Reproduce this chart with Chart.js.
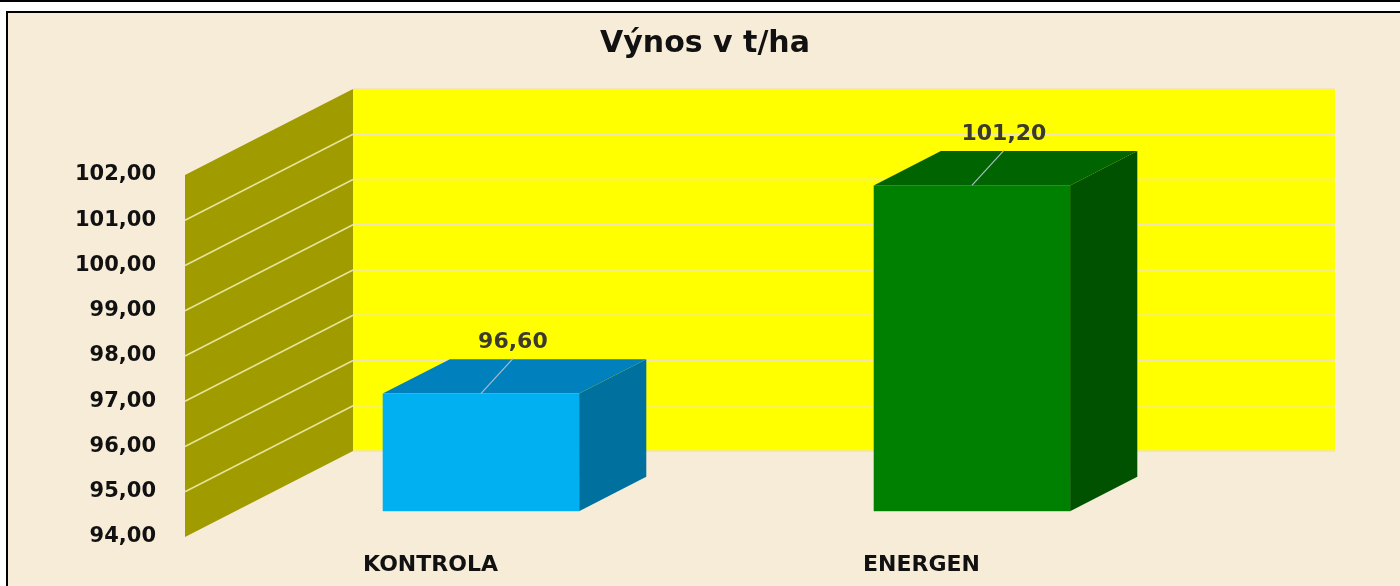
<!DOCTYPE html>
<html>
<head>
<meta charset="utf-8">
<script src="https://cdn.jsdelivr.net/npm/chart.js@4/dist/chart.umd.min.js"></script>
<style>
  html, body { margin: 0; padding: 0; background: #fff; }
  canvas { display: block; }
</style>
</head>
<body>
<canvas id="myChart" width="1400" height="586"></canvas>
<script>
// data
const categories = ['KONTROLA', 'ENERGEN'];
const yields = [96.6, 101.2];
const yMin = 94;
const yMax = 102;
const yStep = 1;

// box colours: front, top, side
const frontColors = ['#00B0F0', '#008000'];
const topColors = ['#0081BE', '#006400'];
const sideColors = ['#00719F', '#005100'];

const fmt = v => v.toFixed(2).replace('.', ',');

// 3D depth of the walls and of the bars
const DX = 168, DY = -86;
const FRONT = 0.3, BAR_DEPTH = 0.4;

const box3d = {
  id: 'box3d',
  beforeDraw(chart) {
    const { ctx, chartArea: a, scales: { y } } = chart;
    const W = chart.width, H = chart.height;
    ctx.save();
    // page and frame
    ctx.fillStyle = '#fff';
    ctx.fillRect(0, 0, W, H);
    ctx.fillStyle = '#F7ECD8';
    ctx.fillRect(7, 12, W, H);
    ctx.strokeStyle = '#000';
    ctx.lineWidth = 2;
    ctx.beginPath(); ctx.moveTo(0, 1); ctx.lineTo(W, 1); ctx.stroke();
    ctx.beginPath(); ctx.moveTo(7, H); ctx.lineTo(7, 12); ctx.lineTo(W, 12); ctx.stroke();

    const top = y.getPixelForValue(yMax), bot = y.getPixelForValue(yMin);
    // back wall
    ctx.fillStyle = '#FFFF00';
    ctx.fillRect(a.left + DX, top + DY, a.right - a.left, bot - top);
    // side wall
    ctx.fillStyle = '#A09C00';
    ctx.beginPath();
    ctx.moveTo(a.left, top);
    ctx.lineTo(a.left + DX, top + DY);
    ctx.lineTo(a.left + DX, bot + DY);
    ctx.lineTo(a.left, bot);
    ctx.closePath();
    ctx.fill();
    // grid lines on both walls
    ctx.lineWidth = 1.5;
    y.ticks.forEach(t => {
      const py = y.getPixelForValue(t.value);
      ctx.strokeStyle = '#F0E6B0';
      ctx.beginPath();
      ctx.moveTo(a.left + DX, py + DY);
      ctx.lineTo(a.right + DX, py + DY);
      ctx.stroke();
      if (t.value > yMin && t.value < yMax) {
        ctx.strokeStyle = '#E6E39A';
        ctx.beginPath();
        ctx.moveTo(a.left, py);
        ctx.lineTo(a.left + DX, py + DY);
        ctx.stroke();
      }
    });
    ctx.restore();
  },
  afterDatasetsDraw(chart) {
    const ctx = chart.ctx;
    const meta = chart.getDatasetMeta(0);
    const fx = FRONT * DX, fy = FRONT * DY;
    const bx = BAR_DEPTH * DX, by = BAR_DEPTH * DY;
    ctx.save();
    meta.data.forEach((bar, i) => {
      const p = bar.getProps(['x', 'y', 'base', 'width'], true);
      const L = p.x - p.width / 2 + fx, R = p.x + p.width / 2 + fx;
      const T = p.y + fy, B = p.base + fy;
      // side
      ctx.fillStyle = sideColors[i];
      ctx.beginPath();
      ctx.moveTo(R, T); ctx.lineTo(R + bx, T + by); ctx.lineTo(R + bx, B + by); ctx.lineTo(R, B);
      ctx.closePath(); ctx.fill();
      // top
      ctx.fillStyle = topColors[i];
      ctx.beginPath();
      ctx.moveTo(L, T); ctx.lineTo(R, T); ctx.lineTo(R + bx, T + by); ctx.lineTo(L + bx, T + by);
      ctx.closePath(); ctx.fill();
      // front
      ctx.fillStyle = frontColors[i];
      ctx.fillRect(L, T, R - L, B - T);
      // leader line and value label
      const cx = p.x + fx;
      ctx.strokeStyle = '#A9BCC6';
      ctx.lineWidth = 1.2;
      ctx.beginPath();
      ctx.moveTo(cx, T);
      ctx.lineTo(cx + 32, T - 35);
      ctx.stroke();
      ctx.fillStyle = '#3C3A2A';
      ctx.font = 'bold 22px "DejaVu Sans"';
      ctx.textAlign = 'center';
      ctx.textBaseline = 'middle';
      ctx.fillText(fmt(yields[i]), cx + 32, T - 51);
    });
    ctx.restore();
  }
};

const ctx = document.getElementById('myChart').getContext('2d');
const chart = new Chart(ctx, {
  type: 'bar',
  data: {
    labels: categories,
    datasets: [{
      data: yields,
      base: yMin,
      backgroundColor: 'rgba(0,0,0,0)',
      borderWidth: 0,
      barPercentage: 0.4,
      categoryPercentage: 1.0
    }]
  },
  options: {
    responsive: false,
    animation: false,
    events: [],
    layout: { padding: { top: 14, left: 20, right: 10, bottom: 0 } },
    plugins: {
      legend: { display: false },
      tooltip: { enabled: false },
      title: {
        display: true,
        text: 'Výnos v t/ha',
        color: '#111',
        font: { family: 'DejaVu Sans', size: 30, weight: 'bold' },
        padding: { top: 12, bottom: 113 }
      }
    },
    scales: {
      y: {
        min: yMin,
        max: yMax,
        grid: { display: false, drawTicks: false },
        border: { display: false },
        ticks: {
          stepSize: yStep,
          padding: 29,
          color: '#111',
          font: { family: 'DejaVu Sans', size: 21, weight: 'bold' },
          callback: v => fmt(v)
        },
        afterFit(scale) { scale.width = 165; }
      },
      // empty right axis keeps room for the back wall
      yRight: {
        position: 'right',
        min: yMin,
        max: yMax,
        grid: { display: false, drawTicks: false },
        border: { display: false },
        ticks: { display: false },
        afterFit(scale) { scale.width = 223; }
      },
      x: {
        grid: { display: false, drawTicks: false },
        border: { display: false },
        ticks: {
          padding: 15,
          color: '#111',
          font: { family: 'DejaVu Sans', size: 22, weight: 'bold' }
        },
        afterFit(scale) { scale.height = 49; }
      }
    }
  },
  plugins: [box3d]
});
</script>
</body>
</html>
